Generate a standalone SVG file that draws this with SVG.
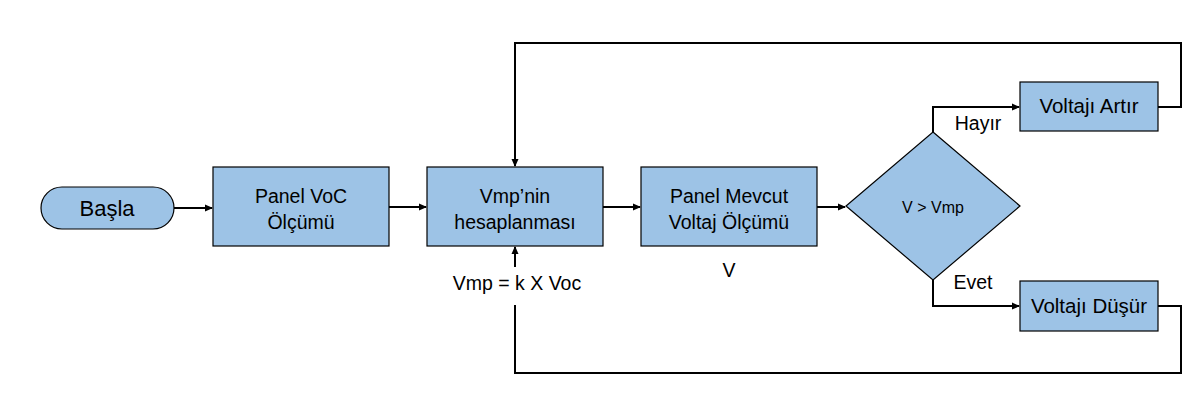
<svg xmlns="http://www.w3.org/2000/svg" width="1199" height="416" viewBox="0 0 1199 416">
<style>
.n{fill:#9DC3E6;stroke:#000;stroke-width:1.2}
.t{font-family:"Liberation Sans",Arial,sans-serif;font-size:19.5px;fill:#000;text-anchor:middle}
.r{font-size:20.5px}
.c{fill:none;stroke:#000;stroke-width:2}
</style>
<defs>
<marker id="a" markerWidth="8" markerHeight="8" refX="7" refY="4" orient="auto" markerUnits="userSpaceOnUse">
<path d="M0,0.5 L8,4 L0,7.5 Z" fill="#000"/>
</marker>
</defs>
<rect width="1199" height="416" fill="#fff"/>
<g id="connectors">
<path class="c" d="M174,208 H212" marker-end="url(#a)"/>
<path class="c" d="M389,207 H426" marker-end="url(#a)"/>
<path class="c" d="M603,207 H640" marker-end="url(#a)"/>
<path class="c" d="M817,207 H845" marker-end="url(#a)"/>
<path class="c" d="M933,132 V107 H1019" marker-end="url(#a)"/>
<path class="c" d="M933,280 V306 H1019" marker-end="url(#a)"/>
<path class="c" d="M1158,107 H1181 V43 H515 V166" marker-end="url(#a)"/>
<path class="c" d="M1158,306 H1181 V373 H515 V305"/>
<path class="c" d="M515,267 V247" marker-end="url(#a)"/>
</g>
<g id="start">
<rect class="n" x="41" y="187" width="133" height="42" rx="21"/>
<text class="t" x="107" y="216" style="font-size:22px">Başla</text>
</g>
<g id="voc">
<rect class="n" x="213" y="167" width="176" height="79"/>
<text class="t" x="301" y="203">Panel VoC</text>
<text class="t" x="301" y="229">Ölçümü</text>
</g>
<g id="vmp">
<rect class="n" x="427" y="167" width="176" height="79"/>
<text class="t" x="515" y="203">Vmp’nin</text>
<text class="t" x="515" y="229">hesaplanması</text>
</g>
<g id="formula">
<text class="t" x="517" y="290">Vmp = k X Voc</text>
</g>
<g id="measure">
<rect class="n" x="641" y="167" width="176" height="79"/>
<text class="t" x="729" y="203">Panel Mevcut</text>
<text class="t" x="729" y="229">Voltaj Ölçümü</text>
</g>
<g id="vlabel">
<text class="t" x="729" y="277">V</text>
</g>
<g id="decision">
<polygon class="n" points="933,132 1020,206 933,280 846,206"/>
<text class="t" x="933" y="213" style="font-size:16px">V &gt; Vmp</text>
</g>
<g id="labels">
<text class="t" x="978" y="130">Hayır</text>
<text class="t" x="973" y="289">Evet</text>
</g>
<g id="increase">
<rect class="n" x="1020" y="82" width="138" height="49"/>
<text class="t r" x="1089" y="113">Voltajı Artır</text>
</g>
<g id="decrease">
<rect class="n" x="1020" y="281" width="138" height="50"/>
<text class="t r" x="1089" y="313">Voltajı Düşür</text>
</g>
</svg>
